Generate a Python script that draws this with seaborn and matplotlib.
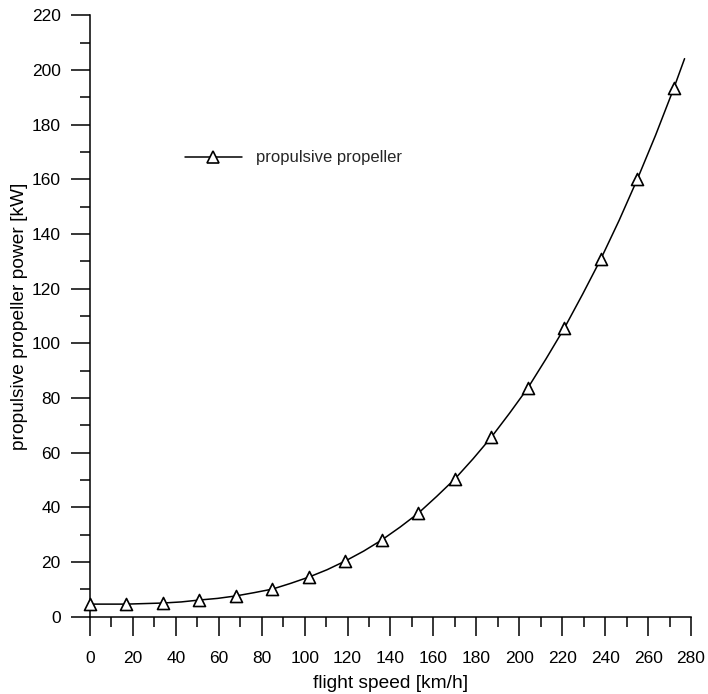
import matplotlib
matplotlib.use("Agg")
import matplotlib.pyplot as plt
from matplotlib.lines import Line2D
from matplotlib.ticker import MultipleLocator
import pandas as pd
import seaborn as sns

# Flight speed [km/h] at the marked operating points
speed = [0, 17, 34, 51, 68, 85, 102, 119, 136, 153, 170, 187, 204, 221, 238, 255, 272]
# Propulsive propeller power [kW] at those points
power = [4.6, 4.6, 5.0, 6.1, 7.6, 10.1, 14.5, 20.4, 28.1, 37.9, 50.4, 65.7, 83.7,
         105.6, 130.9, 160.1, 193.4]
# Extra readings along the continuous power curve (between markers and past the last one)
curve_speed = [8.5, 25.5, 42.5, 59.5, 76.5, 93.5, 110.5, 127.5, 144.5, 161.5,
               178.5, 195.5, 212.5, 229.5, 246.5, 263.5, 277]
curve_power = [4.6, 4.8, 5.4, 6.7, 8.8, 12.2, 17.2, 24.0, 32.8, 44.0,
               57.8, 74.5, 94.4, 118.0, 145.0, 176.2, 204.2]

series_label = "propulsive propeller"
x_label = "flight speed [km/h]"
y_label = "propulsive propeller power [kW]"

points = pd.DataFrame({"speed": speed, "power": power})
curve = pd.DataFrame({"speed": speed + curve_speed,
                      "power": power + curve_power}).sort_values("speed")

sns.set_theme(style="ticks")
plt.rcParams["font.family"] = ["Liberation Sans", "DejaVu Sans"]

fig = plt.figure(figsize=(7.08, 6.94), dpi=100)
ax = fig.add_axes([0.1271, 0.1114, 0.8489, 0.8663])

sns.lineplot(data=curve, x="speed", y="power", ax=ax, color="black",
             linewidth=1.1, sort=True, legend=False)
sns.scatterplot(data=points, x="speed", y="power", ax=ax, marker="^",
                s=75, facecolor="white", edgecolor="black", linewidth=1.2,
                zorder=5, clip_on=False, legend=False)

ax.set_xlim(0, 280)
ax.set_ylim(0, 220)
ax.xaxis.set_major_locator(MultipleLocator(20))
ax.xaxis.set_minor_locator(MultipleLocator(10))
ax.yaxis.set_major_locator(MultipleLocator(20))
ax.yaxis.set_minor_locator(MultipleLocator(10))

for side in ("top", "right"):
    ax.spines[side].set_visible(False)
for side in ("left", "bottom"):
    ax.spines[side].set_linewidth(1.1)
    ax.spines[side].set_color("black")

ax.tick_params(which="major", direction="out", length=14, width=1.1,
               color="black", labelsize=12.5, labelcolor="black")
ax.tick_params(which="minor", direction="out", length=7, width=1.1, color="black")
ax.tick_params(axis="x", which="major", pad=11)
ax.tick_params(axis="y", which="major", pad=7)

ax.set_xlabel(x_label, fontsize=13.8, color="black", labelpad=6.5)
ax.set_ylabel(y_label, fontsize=13.8, color="black", labelpad=3)

handle = Line2D([], [], color="black", linewidth=1.1, marker="^",
                markersize=8.8, markerfacecolor="white", markeredgecolor="black",
                markeredgewidth=1.2)
ax.legend([handle], [series_label], loc="center left",
          bbox_to_anchor=(0.158, 0.763), frameon=False, borderpad=0,
          borderaxespad=0, handlelength=3.4, handletextpad=0.85,
          fontsize=12)

fig.savefig("out.png", dpi=100, facecolor="white")
